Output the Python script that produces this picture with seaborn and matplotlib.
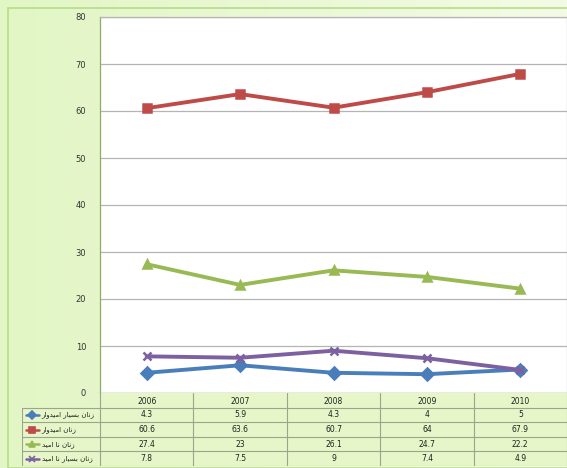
import numpy as np
import pandas as pd
import matplotlib
matplotlib.use("Agg")
import matplotlib.pyplot as plt
import seaborn as sns

years = [2006, 2007, 2008, 2009, 2010]
series_names = ["زنان بسیار امیدوار", "زنان امیدوار", "زنان نا امید", "زنان بسیار نا امید"]
very_hopeful = [4.3, 5.9, 4.3, 4, 5]
hopeful = [60.6, 63.6, 60.7, 64, 67.9]
hopeless = [27.4, 23, 26.1, 24.7, 22.2]
very_hopeless = [7.8, 7.5, 9, 7.4, 4.9]
values = [very_hopeful, hopeful, hopeless, very_hopeless]
colors = ["#4a7ebb", "#be4b48", "#98b954", "#7d60a0"]
marker_list = ["D", "s", "^", "x"]

# simple persian shaping (matplotlib has no text shaping / bidi)
FORMS = {
    "ز": ("\uFEAF", "\uFEB0", None, None),
    "ن": ("\uFEE5", "\uFEE6", "\uFEE7", "\uFEE8"),
    "ا": ("\uFE8D", "\uFE8E", None, None),
    "ب": ("\uFE8F", "\uFE90", "\uFE91", "\uFE92"),
    "س": ("\uFEB1", "\uFEB2", "\uFEB3", "\uFEB4"),
    "ی": ("\uFBFC", "\uFBFD", "\uFBFE", "\uFBFF"),
    "ر": ("\uFEAD", "\uFEAE", None, None),
    "م": ("\uFEE1", "\uFEE2", "\uFEE3", "\uFEE4"),
    "د": ("\uFEA9", "\uFEAA", None, None),
    "و": ("\uFEED", "\uFEEE", None, None),
}


def shape(s):
    out = []
    for i, c in enumerate(s):
        if c not in FORMS:
            out.append(c)
            continue
        iso, fin, ini, med = FORMS[c]
        prev_j = i > 0 and s[i - 1] in FORMS and FORMS[s[i - 1]][2] is not None
        next_j = i < len(s) - 1 and s[i + 1] in FORMS and ini is not None
        if prev_j and next_j:
            out.append(med)
        elif prev_j:
            out.append(fin)
        elif next_j:
            out.append(ini)
        else:
            out.append(iso)
    return "".join(out)[::-1]


rows = []
for name, vals in zip(series_names, values):
    for y, v in zip(years, vals):
        rows.append({"year": y, "value": v, "series": name})
df = pd.DataFrame(rows)

sns.set_style("white")
plt.rcParams["font.family"] = ["DejaVu Sans"]

W, H = 567, 468
fig = plt.figure(figsize=(W / 100, H / 100), dpi=100)
fig.patch.set_facecolor("#eef9dc")

# background gradient + frame
bg = fig.add_axes([0, 0, 1, 1], zorder=-10)
grad = np.linspace(0, 1, 256).reshape(1, -1)
bg.imshow(grad, aspect="auto", extent=[0, 1, 0, 1],
          cmap=matplotlib.colors.LinearSegmentedColormap.from_list("g", ["#e2f6c4", "#f3fbe6"]))
bg.add_patch(plt.Rectangle((8 / W, 0), 1, 1 - 8 / H, fill=False, ec="#b9db8a", lw=1.2))
bg.set_xlim(0, 1)
bg.set_ylim(0, 1)
bg.axis("off")

x0, x1 = 100, 567
ytop, ybot = 17, 393
ax = fig.add_axes([x0 / W, (H - ybot) / H, (x1 - x0) / W, (ybot - ytop) / H])
ax.set_facecolor("white")
for name, c, m in zip(series_names, colors, marker_list):
    sns.lineplot(data=df[df["series"] == name], x="year", y="value", color=c,
                 marker=m, linewidth=2.8, markersize=6, markeredgewidth=1.8,
                 markeredgecolor=c, ax=ax)
ax.set_xlim(2005.5, 2010.5)
ax.set_ylim(0, 80)
ax.set_yticks(range(0, 81, 10))
ax.set_xticks([])
ax.set_xlabel("")
ax.set_ylabel("")
ax.yaxis.grid(True, color="#b4b4b4", lw=0.9)
ax.set_axisbelow(True)
ax.tick_params(axis="y", labelsize=6, colors="#333333", length=0, pad=10)
for sp in ax.spines.values():
    sp.set_color("#b4b4b4")
    sp.set_linewidth(0.9)
ax.spines["left"].set_color("#8cae62")
ax.spines["bottom"].set_color("#8cae62")

# data table under the chart
legend_w = 78 / 93.4
tleft, tbottom = 22, 466
tax = fig.add_axes([tleft / W, (H - tbottom) / H, (W - tleft) / W, (tbottom - ybot) / H])
tax.set_xlim(2005.5 - legend_w, 2010.5)
tax.set_ylim(5, 0)
tax.axis("off")
tax.add_patch(plt.Rectangle((2005.5 - legend_w, 1), 5 + legend_w, 4, fc="#e6f6c8", ec="none", zorder=0))
tax.add_patch(plt.Rectangle((2005.5, 0), 5, 1, fc="#e6f6c8", ec="none", zorder=0))
lc = "#9aa58c"
for r in range(1, 6):
    tax.plot([2005.5 - legend_w, 2010.5], [r, r], color=lc, lw=0.8)
for k in range(6):
    tax.plot([2005.5 + k, 2005.5 + k], [0, 5], color=lc, lw=0.8)
tax.plot([2005.5 - legend_w] * 2, [1, 5], color=lc, lw=0.8)
for y in years:
    tax.text(y, 0.55, str(y), ha="center", va="center", fontsize=5.5, color="#222222")
for r, (name, vals, c, m) in enumerate(zip(series_names, values, colors, marker_list), start=1):
    for y, v in zip(years, vals):
        tax.text(y, r + 0.5, f"{v:g}", ha="center", va="center", fontsize=5.5, color="#222222")
    lx = 2005.5 - legend_w + 0.04
    tax.plot([lx, lx + 0.14], [r + 0.5, r + 0.5], color=c, lw=1.8)
    tax.plot([lx + 0.07], [r + 0.5], marker=m, color=c, ms=4, mew=1.2)
    tax.text(lx + 0.17, r + 0.5, shape(name), ha="left", va="center", fontsize=5, color="#222222")

fig.savefig("out.png", dpi=100)
